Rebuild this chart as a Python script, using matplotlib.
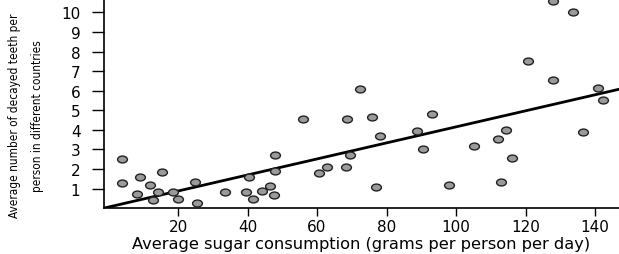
import numpy as np
import matplotlib.pyplot as plt
from matplotlib.path import Path

# sugar consumption (g/person/day) and decayed teeth per person
sugar = [4.0, 4.0, 8.3, 9.2, 11.8, 14.2, 12.9, 15.3, 18.5, 20.1, 24.9, 25.4,
         33.5, 39.6, 40.4, 41.5, 44.1, 46.5, 47.6, 47.8, 47.8, 56.0, 60.7, 62.8,
         68.3, 68.7, 69.5, 72.4, 75.7, 76.9, 78.1, 88.7, 90.6, 93.0, 98.0,
         105.3, 112.0, 113.0, 114.3, 116.1, 120.8, 127.8, 128.0, 133.8, 136.5,
         140.8, 142.4]
teeth = [2.5, 1.29, 0.70, 1.57, 1.19, 0.82, 0.39, 1.86, 0.80, 0.46, 1.31, 0.26,
         0.80, 0.80, 1.60, 0.48, 0.89, 1.11, 0.66, 1.88, 2.71, 4.57, 1.81, 2.11,
         2.08, 4.57, 2.71, 6.08, 4.64, 1.09, 3.70, 3.92, 3.00, 4.81, 1.16,
         3.19, 3.51, 1.31, 3.97, 2.57, 7.53, 10.6, 6.53, 10.0, 3.89,
         6.12, 5.54]

# fitted line end points
fit_x = [-1.3, 147]
fit_y = [0.0, 6.08]

ellipse = Path(Path.unit_circle().vertices * [1.0, 0.7], Path.unit_circle().codes)

fig = plt.figure(figsize=(6.19, 2.55), dpi=100)
ax = fig.add_axes([0.168, 0.18, 0.832, 0.82])

ax.plot(fit_x, fit_y, color='black', lw=2.0, zorder=3)
ax.scatter(sugar, teeth, marker=ellipse, s=50, facecolor='#9a9a9a',
           edgecolor='#222222', linewidth=1.0, zorder=4)

ax.set_xlim(-1.3, 146.9)
ax.set_ylim(0, 10.69)
ax.set_xticks([20, 40, 60, 80, 100, 120, 140])
ax.set_yticks(range(1, 11))
for s in ['top', 'right']:
    ax.spines[s].set_visible(False)
for s in ['left', 'bottom']:
    ax.spines[s].set_linewidth(1.2)
ax.tick_params(axis='y', length=9, width=1, pad=8, labelsize=11)
ax.tick_params(axis='x', length=6, width=1, pad=2, labelsize=11)

ax.set_xlabel('Average sugar consumption (grams per person per day)',
              fontsize=11.7, labelpad=1)
fig.text(0.042, 0.545, 'Average number of decayed teeth per\nperson in different countries',
         rotation=90, ha='center', va='center', fontsize=8.5,
         family='DejaVu Sans', stretch='condensed', linespacing=2.0)

fig.savefig('out.png', dpi=100)
